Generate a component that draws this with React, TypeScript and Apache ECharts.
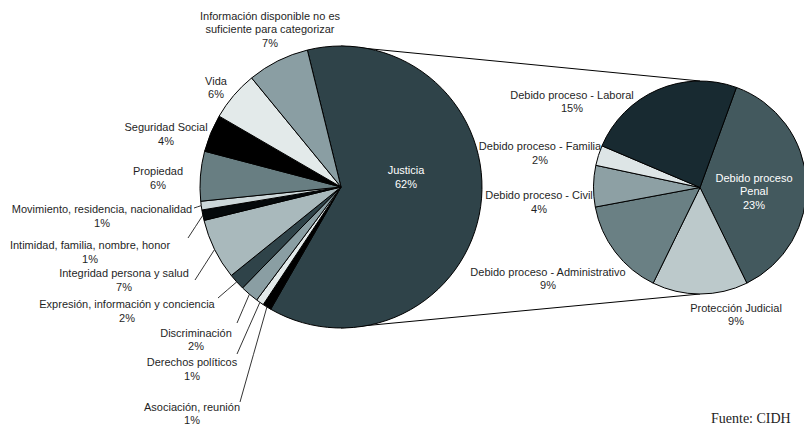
import React, { useEffect, useRef } from 'react';
import * as echarts from 'echarts';

// ---- data (percent of all cases) ----
const LEFT_CATEGORIES = [
  'Justicia',
  'Asociación, reunión',
  'Derechos políticos',
  'Discriminación',
  'Expresión, información y conciencia',
  'Integridad persona y salud',
  'Intimidad, familia, nombre, honor',
  'Movimiento, residencia, nacionalidad',
  'Propiedad',
  'Seguridad Social',
  'Vida',
  'Información disponible no es\nsuficiente para categorizar',
];
const LEFT_VALUES = [62.2, 1.0, 0.9, 2.1, 1.9, 7.0, 1.2, 1.0, 5.7, 4.3, 5.7, 7.1];

const RIGHT_CATEGORIES = [
  'Debido proceso\nPenal',
  'Protección Judicial',
  'Debido proceso - Administrativo',
  'Debido proceso - Civil',
  'Debido proceso - Familia',
  'Debido proceso - Laboral',
];
const RIGHT_VALUES = [23.1, 9.0, 9.2, 3.9, 1.9, 15.0];

const SOURCE_NOTE = 'Fuente: CIDH';

// ---- styling / layout ----
const LEFT_COLORS = [
  '#2F4349', '#000000', '#E3EAEA', '#8A9EA3', '#2F4349', '#A9B9BC',
  '#05090B', '#CDD8DA', '#687E82', '#000000', '#E3EAEA', '#8A9EA3',
];
const RIGHT_COLORS = ['#43595E', '#BCC9CB', '#6A8084', '#8DA0A4', '#DDE5E6', '#182A31'];

const LEFT_CENTER = [341, 187];
const LEFT_R = 141;
const RIGHT_CENTER = [700, 187.5];
const RIGHT_R = 106.5;
const LEFT_START = 103.8;
const RIGHT_START = 70;

const LEFT_LABEL_POS = [
  [406, 177], [192, 413.5], [192, 369], [196, 339.5], [127, 311], [124, 280],
  [90, 252], [102, 216], [158, 178], [166, 134], [216, 87.5], [270, 29],
];
const LEFT_LEADER_END: (number[] | null)[] = [
  null, [240, 402], [237, 354], [237, 323], [218, 298], [195, 280],
  [188, 238], [194, 208], null, null, null, null,
];
const RIGHT_LABEL_POS = [
  [754, 191], [736, 314.5], [548, 278.7], [539, 202], [540, 153], [572, 101.7],
];

function rimPoint(values: number[], idx: number, start: number, center: number[], r: number) {
  const total = values.reduce((a, b) => a + b, 0);
  let before = 0;
  for (let i = 0; i < idx; i++) before += values[i];
  const mid = before + values[idx] / 2;
  const a = ((start - (mid / total) * 360) * Math.PI) / 180;
  return [center[0] + r * Math.cos(a), center[1] - r * Math.sin(a)];
}

const FONT = "'Liberation Sans', Arial, sans-serif";

export default function App() {
  const ref = useRef<HTMLDivElement>(null);

  useEffect(() => {
    if (!ref.current) return;
    const chart = echarts.init(ref.current, undefined, { renderer: 'svg' });

    const labelBase = {
      show: true,
      position: 'outside',
      fontFamily: FONT,
      fontSize: 11,
      lineHeight: 13.5,
      color: '#1f1f1f',
      formatter: (p: any) => `${p.name}\n${Math.round(p.value)}%`,
    };

    const leftData = LEFT_CATEGORIES.map((name, i) => ({
      name,
      value: LEFT_VALUES[i],
      itemStyle: { color: LEFT_COLORS[i] },
      label: i === 0 ? { color: '#ffffff' } : {},
      labelLine: { show: !!LEFT_LEADER_END[i] },
    }));

    const rightData = RIGHT_CATEGORIES.map((name, i) => ({
      name,
      value: RIGHT_VALUES[i],
      itemStyle: { color: RIGHT_COLORS[i] },
      label: i === 0 ? { color: '#ffffff' } : {},
      labelLine: { show: false },
    }));

    chart.setOption({
      animation: false,
      backgroundColor: '#ffffff',
      series: [
        {
          type: 'pie',
          center: LEFT_CENTER,
          radius: LEFT_R,
          startAngle: LEFT_START,
          clockwise: true,
          avoidLabelOverlap: false,
          silent: true,
          itemStyle: { borderColor: '#000000', borderWidth: 1 },
          label: labelBase,
          labelLine: { show: false, length: 5, length2: 5, lineStyle: { color: '#000000', width: 0.8 } },
          labelLayout: (params: any) => {
            const i = params.dataIndex;
            const pos = LEFT_LABEL_POS[i];
            const res: any = { x: pos[0], y: pos[1], align: 'center', verticalAlign: 'middle' };
            const end = LEFT_LEADER_END[i];
            if (end) {
              const rim = rimPoint(LEFT_VALUES, i, LEFT_START, LEFT_CENTER, LEFT_R);
              res.labelLinePoints = [rim, [(rim[0] + end[0]) / 2, (rim[1] + end[1]) / 2], end];
            }
            return res;
          },
          data: leftData,
        },
        {
          type: 'pie',
          center: RIGHT_CENTER,
          radius: RIGHT_R,
          startAngle: RIGHT_START,
          clockwise: true,
          avoidLabelOverlap: false,
          silent: true,
          itemStyle: { borderColor: '#000000', borderWidth: 1 },
          label: labelBase,
          labelLine: { show: false },
          labelLayout: (params: any) => {
            const pos = RIGHT_LABEL_POS[params.dataIndex];
            return { x: pos[0], y: pos[1], align: 'center', verticalAlign: 'middle' };
          },
          data: rightData,
        },
      ],
      graphic: [
        {
          type: 'line',
          silent: true,
          shape: {
            x1: LEFT_CENTER[0], y1: LEFT_CENTER[1] - LEFT_R,
            x2: RIGHT_CENTER[0], y2: RIGHT_CENTER[1] - RIGHT_R,
          },
          style: { stroke: '#000000', lineWidth: 1 },
          z: -1,
        },
        {
          type: 'line',
          silent: true,
          shape: {
            x1: LEFT_CENTER[0], y1: LEFT_CENTER[1] + LEFT_R,
            x2: RIGHT_CENTER[0], y2: RIGHT_CENTER[1] + RIGHT_R,
          },
          style: { stroke: '#000000', lineWidth: 1 },
          z: -1,
        },
        {
          type: 'text',
          left: 711,
          top: 411,
          style: {
            text: SOURCE_NOTE,
            fontFamily: "'Liberation Serif', 'DejaVu Serif', serif",
            fontSize: 14,
            fill: '#222222',
          },
        },
      ],
    });

    return () => chart.dispose();
  }, []);

  return (
    <div
      ref={ref}
      style={{ position: 'absolute', left: 0, top: 0, width: 804, height: 427 }}
    />
  );
}
